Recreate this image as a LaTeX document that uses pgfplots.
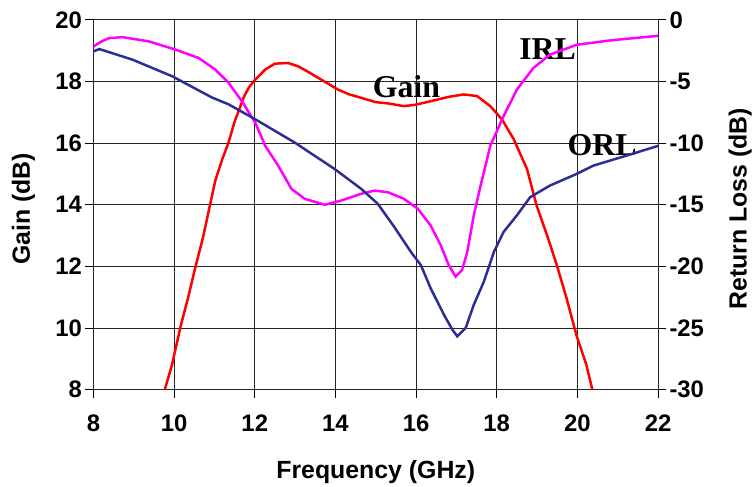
\documentclass[border=0pt]{standalone}
\usepackage{pgfplots}
\pgfplotsset{compat=1.18}
\usepackage{fontspec}
\setmainfont{Liberation Sans}
\newfontfamily\tnr{Liberation Serif}
\definecolor{gainred}{RGB}{255,0,0}
\definecolor{irlpink}{RGB}{255,0,255}
\definecolor{orlblue}{RGB}{45,45,150}

\begin{document}
\begin{tikzpicture}
\begin{axis}[
    scale only axis,
    width=568pt, height=372pt,
    xmin=8, xmax=22, ymin=8, ymax=20,
    xtick={8,10,...,22}, xticklabels={8,10,12,14,16,18,20,22},
    ytick={8,10,...,20}, yticklabels={8,10,12,14,16,18,20},
    grid=major,
    grid style={black!85, line width=0.9pt},
    axis line style={black!85, line width=0.9pt},
    tick style={black, line width=0.9pt},
    tick align=outside, xtick pos=bottom, ytick pos=left,
    major tick length=8pt,
    ticklabel style={font=\fontsize{24}{24}\selectfont\bfseries},
    xticklabel style={yshift=-14pt},
    xlabel={Frequency (GHz)}, ylabel={Gain (dB)},
    label style={font=\fontsize{25}{25}\selectfont\bfseries},
    xlabel style={at={(axis description cs:0.5,-0.239)}, anchor=base},
    ylabel style={at={(axis description cs:-0.1127,0.489)}, anchor=base},
]
% Gain
\addplot[gainred, line width=2.5pt] coordinates {
    (9.77,8.0) (9.95,8.82) (10.16,10.05) (10.35,11.0) (10.53,11.99)
    (10.71,12.9) (11.02,14.78) (11.2,15.5) (11.35,16.02) (11.5,16.7)
    (11.6,17.04) (11.72,17.47) (11.85,17.8) (12.01,18.06) (12.26,18.39)
    (12.5,18.58) (12.83,18.6) (13.08,18.49) (13.3,18.33) (13.65,18.06)
    (14.06,17.74) (14.35,17.58) (14.64,17.47) (15.0,17.33) (15.3,17.29)
    (15.7,17.2) (16.0,17.25) (16.36,17.36) (16.8,17.5) (17.18,17.58)
    (17.51,17.53) (17.84,17.2) (18.13,16.77) (18.42,16.13) (18.75,15.16)
    (18.99,13.97) (19.25,13.0) (19.49,12.04) (19.73,10.97) (19.98,9.75)
    (20.22,8.82) (20.37,8.0)
};
\node[font=\tnr\fontsize{32}{32}\selectfont\bfseries, anchor=base] at (axis cs:15.76,17.48) {Gain};
\node[font=\tnr\fontsize{32}{32}\selectfont\bfseries, anchor=base] at (axis cs:19.26,18.73) {IRL};
\node[font=\tnr\fontsize{32}{32}\selectfont\bfseries, anchor=base] at (axis cs:20.61,15.61) {ORL};
\end{axis}
\begin{axis}[
    scale only axis,
    width=568pt, height=372pt,
    xmin=8, xmax=22, ymin=-30, ymax=0,
    axis x line=none, axis y line*=right,
    ytick={-30,-25,...,0}, yticklabels={-30,-25,-20,-15,-10,-5,0},
    axis line style={black!85, line width=0.9pt},
    tick style={black, line width=0.9pt},
    tick align=outside, major tick length=8pt,
    ticklabel style={font=\fontsize{24}{24}\selectfont\bfseries},
    ylabel={Return Loss (dB)},
    label style={font=\fontsize{25}{25}\selectfont\bfseries},
    ylabel style={at={(axis description cs:1.1567,0.489)}, anchor=base},
]
% IRL
\addplot[irlpink, line width=2.5pt] coordinates {
    (8,-2.15) (8.2,-1.75) (8.39,-1.48) (8.72,-1.4) (9.38,-1.75)
    (10.04,-2.42) (10.61,-3.09) (11.02,-4.03) (11.35,-5.1) (11.68,-6.59)
    (12.01,-8.33) (12.26,-10.22) (12.58,-11.83) (12.91,-13.71) (13.24,-14.52)
    (13.74,-15.0) (14.15,-14.65) (14.64,-14.11) (14.97,-13.85) (15.3,-13.98)
    (15.7,-14.52) (16.04,-15.32) (16.36,-16.67) (16.61,-18.28) (16.81,-19.9)
    (16.98,-20.83) (17.14,-20.3) (17.27,-18.82) (17.43,-15.86) (17.6,-13.44)
    (17.84,-10.22) (18.17,-7.8) (18.5,-5.65) (18.91,-3.9) (19.32,-2.82)
    (19.98,-2.02) (20.8,-1.67) (22,-1.29)
};
% ORL
\addplot[orlblue, line width=2.5pt] coordinates {
    (8,-2.55) (8.15,-2.37) (8.97,-3.23) (9.95,-4.57) (10.94,-6.3)
    (11.35,-6.85) (12.01,-8.06) (12.99,-9.95) (13.98,-12.1) (14.64,-13.71)
    (15.05,-14.92) (15.46,-16.8) (15.87,-18.82) (16.12,-19.9) (16.36,-21.77)
    (16.69,-23.92) (16.9,-25.13) (17.02,-25.67) (17.23,-25.0) (17.43,-23.12)
    (17.68,-21.24) (17.93,-18.82) (18.17,-17.2) (18.5,-15.86) (18.83,-14.38)
    (19.32,-13.44) (19.98,-12.5) (20.39,-11.83) (21.21,-11.02) (22,-10.22)
};
\end{axis}
% page margins as in the reference
\path (current axis.south west) ++(-94pt,-95pt) coordinate (bbsw);
\path (current axis.north east) ++(93pt,20pt) coordinate (bbne);
\path (bbsw) rectangle (bbne);
\end{tikzpicture}
\end{document}
